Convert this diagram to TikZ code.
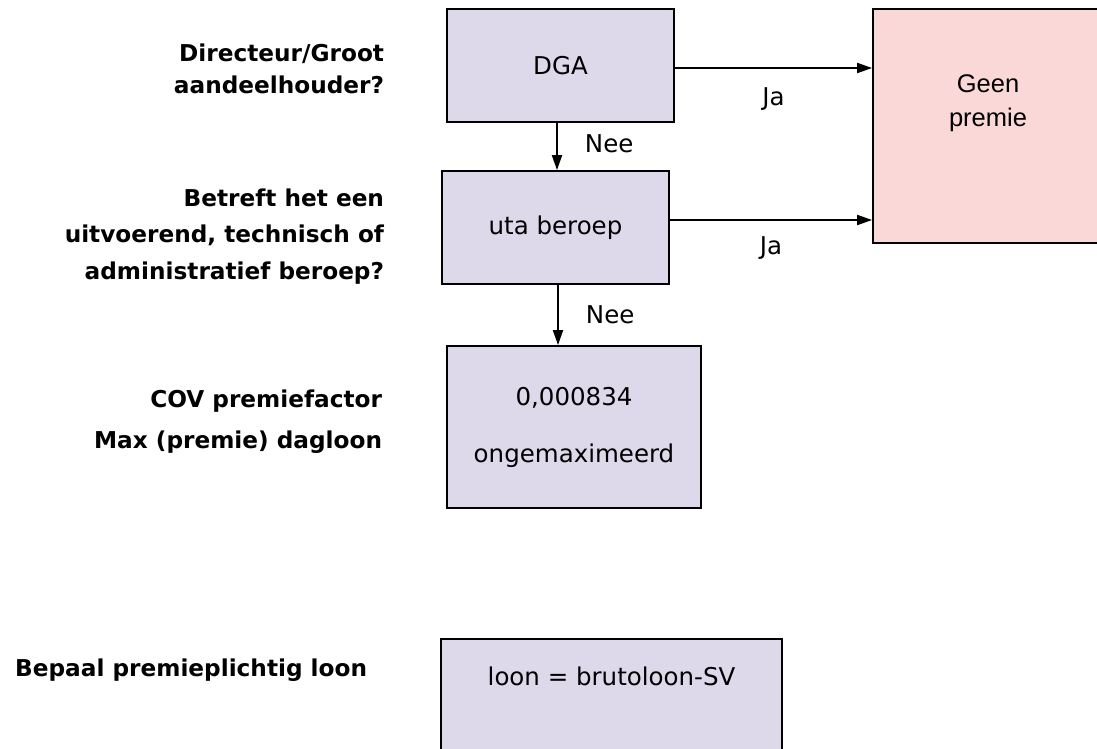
\documentclass[tikz,border=0pt]{standalone}
\usepackage{fontspec}
\setmainfont{DejaVu Sans}
\newfontfamily\arialfont{Liberation Sans}
\usetikzlibrary{positioning,arrows.meta}
\definecolor{lavender}{RGB}{221,217,235}
\definecolor{rose}{RGB}{250,216,216}
\tikzset{
  box/.style={rectangle,draw,line width=1.8pt,fill=lavender,inner sep=0pt,font=\fontsize{24.5}{29}\selectfont},
  question/.style={inner sep=0pt,align=right,font=\bfseries\fontsize{23.2}{31.6}\selectfont},
  answer/.style={inner sep=0pt,font=\fontsize{24.5}{29}\selectfont}
}
\begin{document}
\begin{tikzpicture}[x=1pt,y=-1pt,line width=1.9pt,>={Triangle[length=15pt,width=10pt]}]
\useasboundingbox (0,0) rectangle (1097,749);

\draw (385,43) node[question,anchor=north east] (q1) {Directeur/Groot\\aandeelhouder?};
\draw (385,187.5) node[question,anchor=north east] (q2) {Betreft het een\\[4.9pt]uitvoerend, technisch of\\[4.9pt]administratief beroep?};
\draw (383,389) node[question,anchor=north east] (q3) {COV premiefactor\\[9.4pt]Max (premie) dagloon};
\draw (368,676) node[question,anchor=base east] (q4) {Bepaal premieplichtig loon};

\path (560.5,65.5) node[box,minimum width=227pt,minimum height=113pt] (dga) {DGA};
\path (555.5,227.5) node[box,minimum width=227pt,minimum height=113pt] (uta) {uta beroep};
\path (574,427) node[box,minimum width=254pt,minimum height=162pt,align=center] (cov) {0,000834\\[28pt]ongemaximeerd};
\path (611.5,638) node[box,anchor=north,minimum width=341pt,text height=47pt,text depth=110pt] (loon) {loon = brutoloon-SV};

\path (987,126) node[rectangle,draw,line width=1.8pt,fill=rose,minimum width=228pt,minimum height=234pt] (geen) {};
\node[below=65.7pt of geen.north,xshift=1pt,inner sep=0pt,align=center,font=\arialfont\fontsize{25.5}{34.4}\selectfont] (geentxt) {Geen\\premie};

\draw[->] ([yshift=-2.5pt]dga.east) -- ([yshift=-2.5pt]dga.east -| geen.west) node[answer,midway,below=18.3pt] {Ja};
\draw[->] ([yshift=7.5pt]uta.east) -- ([yshift=7.5pt]uta.east -| geen.west) node[answer,midway,below=15.7pt] {Ja};

\draw[->] ([xshift=-3.5pt]dga.south) -- ([xshift=-3.5pt]dga.south |- uta.north) node[answer,midway,right=27pt,yshift=3pt] {Nee};
\draw[->] ([xshift=2.5pt]uta.south) -- ([xshift=2.5pt]uta.south |- cov.north) node[answer,midway,right=27pt] {Nee};
\end{tikzpicture}
\end{document}
